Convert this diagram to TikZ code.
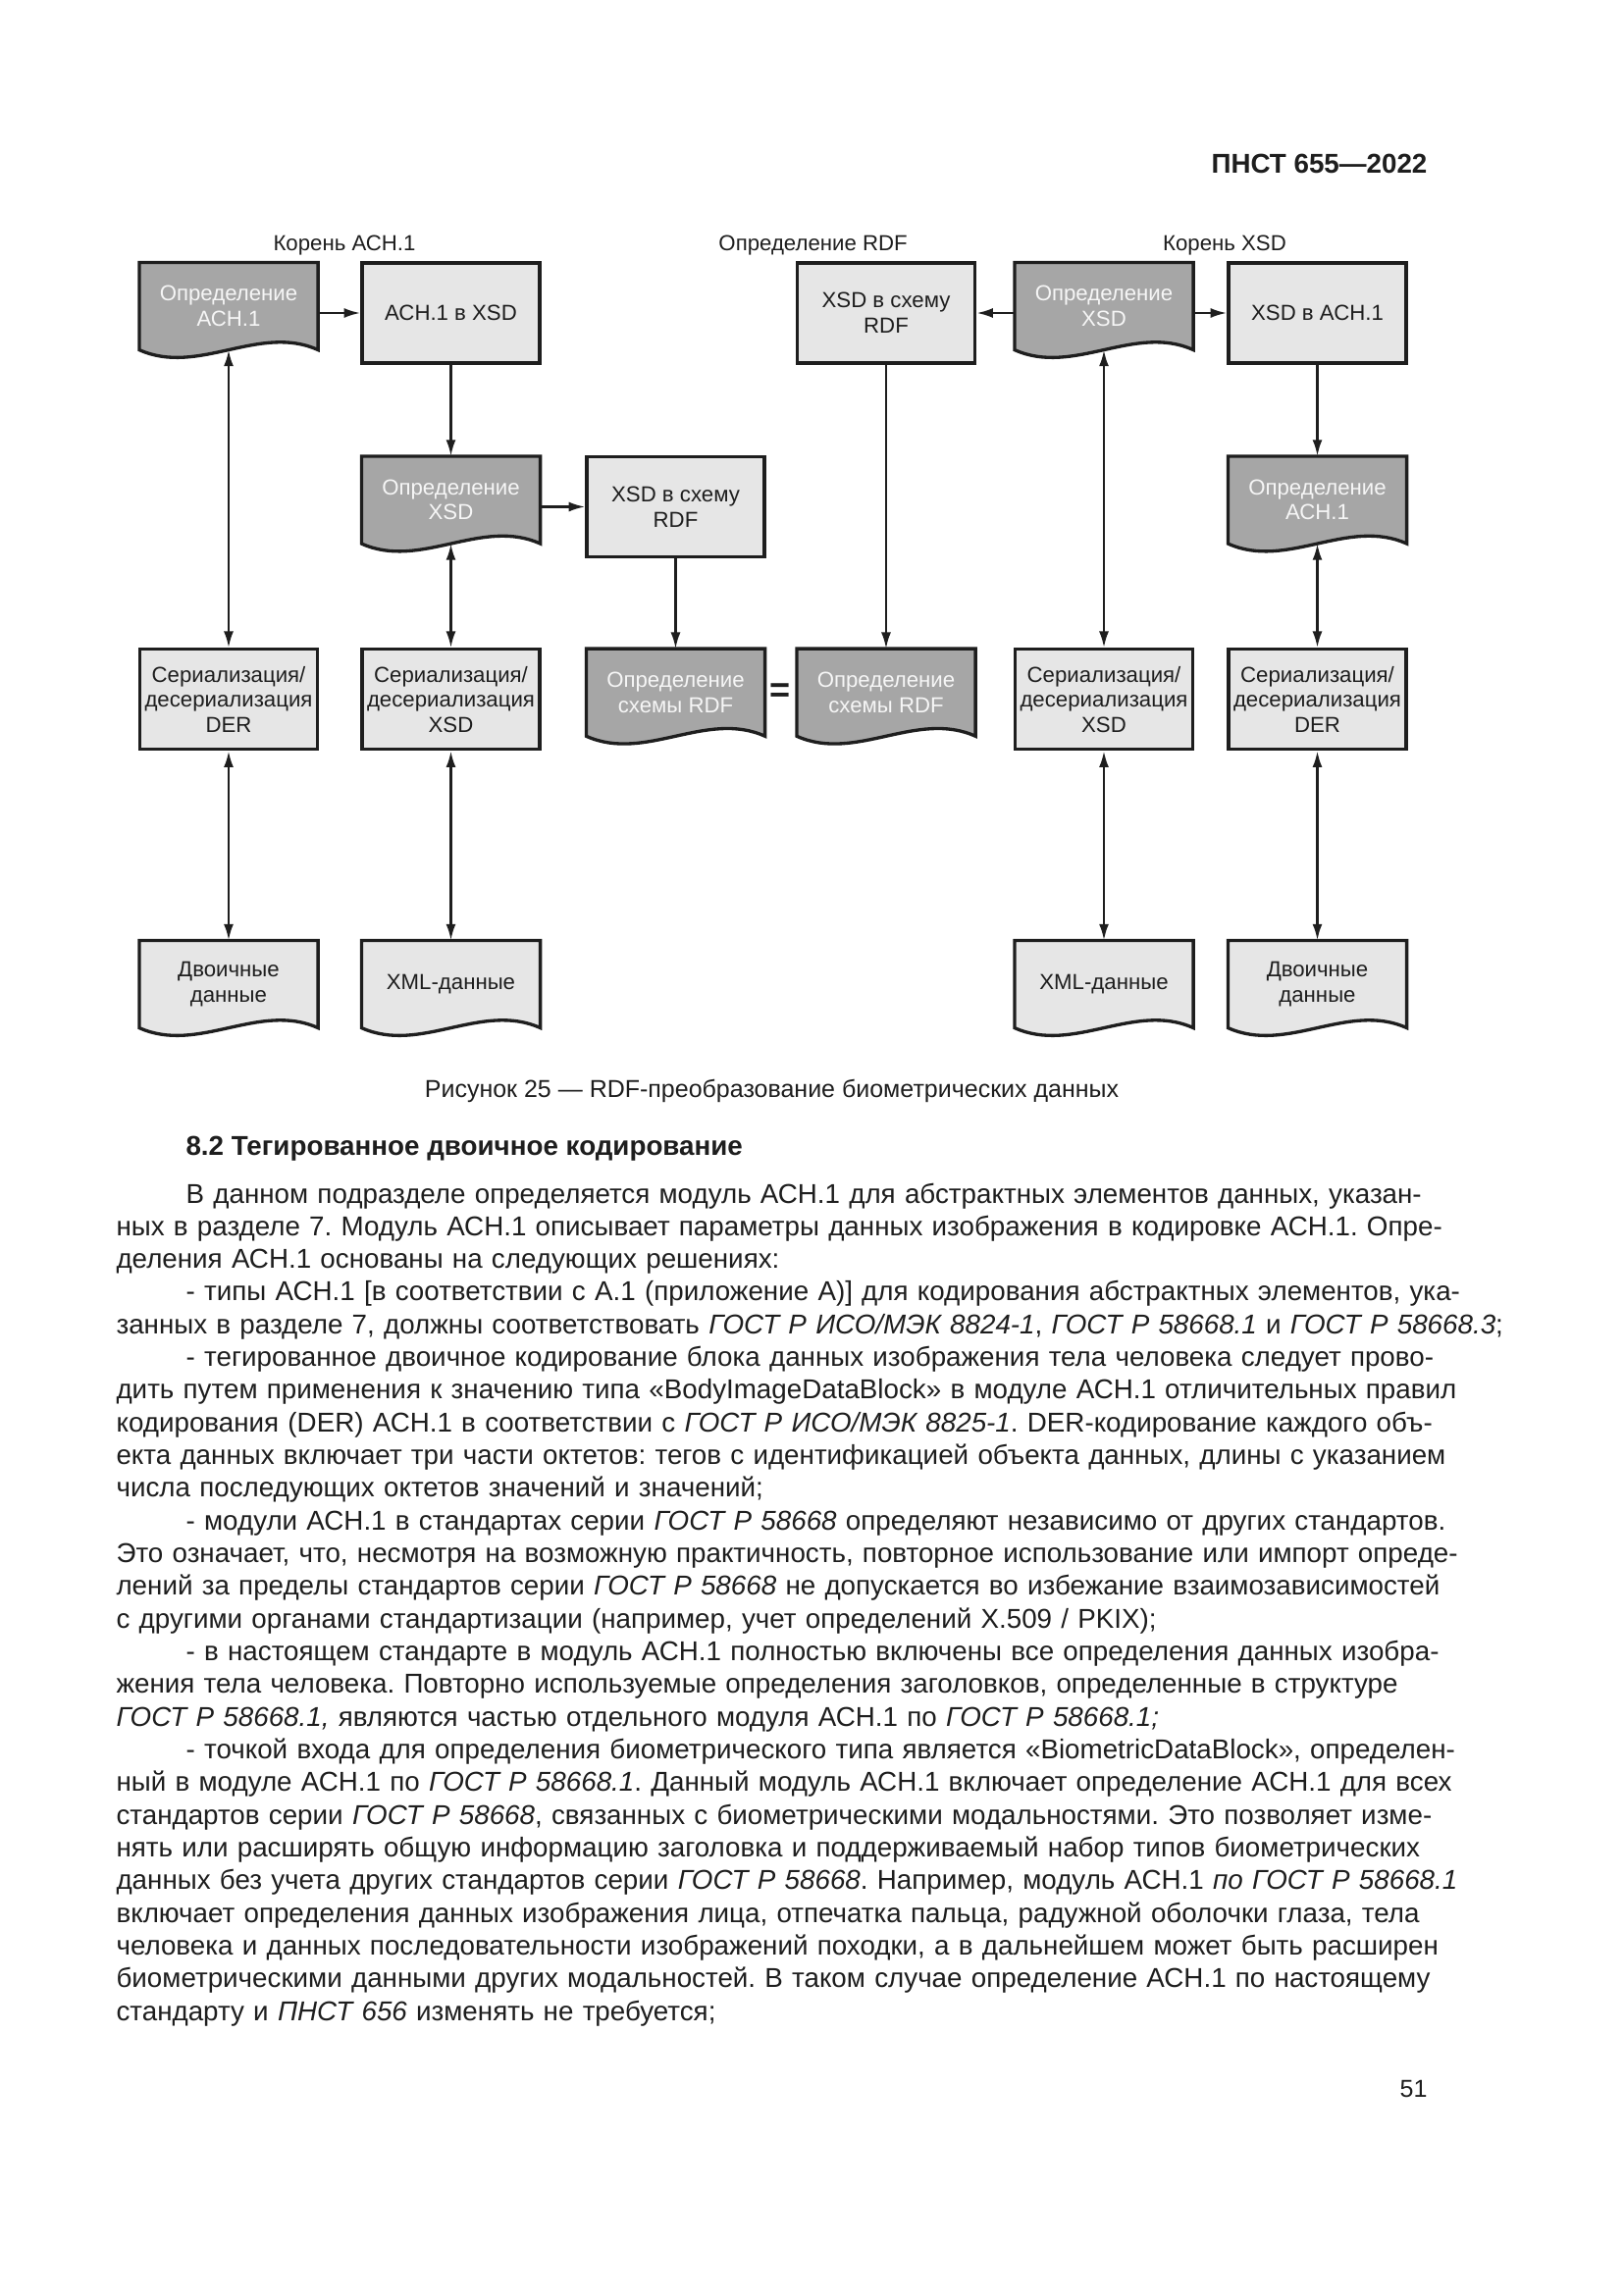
\documentclass[tikz,border=0pt]{standalone}
\usepackage{fontspec}
\setmainfont{Liberation Sans}
\usetikzlibrary{arrows.meta,backgrounds}
\definecolor{ink}{HTML}{1E1E1E}
\definecolor{lightfill}{HTML}{E6E6E6}
\definecolor{darkfill}{HTML}{A6A6A6}
\definecolor{doctext}{HTML}{F6F6F6}
\frenchspacing
\newcommand{\boxfont}{\fontsize{8}{9.2}\selectfont}
\newcommand{\bodyfont}{\fontsize{10}{12}\selectfont}
\newlength{\bodyw}\setlength{\bodyw}{481.5pt}
\newlength{\pind}\setlength{\pind}{25.6pt}
\newcommand{\jline}[1]{\makebox[\bodyw][s]{#1}}
\newcommand{\docshape}[2]{%
  \path[docline, fill=#2] (#1.north west) -- (#1.north east) -- (#1.south east)
    .. controls +(-60,-27) and +(60,27) .. (#1.south west) -- cycle;}
\begin{document}
\begin{tikzpicture}[x=0.36013pt, y=-0.36013pt,
  every node/.style={text=ink, inner sep=0pt},
  rectbox/.style={draw=ink, line width=1.2pt, fill=lightfill, minimum width=65.2pt,
    minimum height=36.7pt, align=center, font=\boxfont},
  docdark/.style={minimum width=65.2pt, minimum height=31.7pt, align=center,
    font=\boxfont, text=doctext},
  doclight/.style={minimum width=65.2pt, minimum height=31.7pt, align=center,
    font=\boxfont},
  docline/.style={draw=ink, line width=1.2pt, line join=miter},
  arr/.style={draw=ink, line width=0.9pt, -{Latex[length=6pt,width=3.6pt]}},
  barr/.style={draw=ink, line width=0.9pt,
    {Latex[length=6pt,width=3.6pt]}-{Latex[length=6pt,width=3.6pt]}},
  lbl/.style={anchor=base, font=\boxfont}]
\useasboundingbox (0,0) rectangle (1654,2339);

% header
\node[anchor=base east, font=\bfseries\fontsize{10}{12}\selectfont] (hdr) at (1455,176.7) {ПНСТ 655—2022};

% group labels
\node[lbl] (lblA) at (351,255) {Корень АСН.1};
\node[lbl] (lblR) at (828.6,255) {Определение RDF};
\node[lbl] (lblX) at (1248,255) {Корень XSD};

% row 1
\node[docdark] (A1) at (233,312) {Определение\\АСН.1};
\node[rectbox] (B1) at (459.5,319) {АСН.1 в XSD};
\node[rectbox] (D1) at (903,319) {XSD в схему\\RDF};
\node[docdark] (E1) at (1125,312) {Определение\\XSD};
\node[rectbox] (F1) at (1342.5,319) {XSD в АСН.1};

% row 2
\node[docdark] (B2) at (459.5,509.5) {Определение\\XSD};
\node[rectbox] (C2) at (688.5,516.5) {XSD в схему\\RDF};
\node[docdark] (F2) at (1342.5,509.5) {Определение\\АСН.1};

% row 3
\node[rectbox] (A3) at (233,712.7) {Сериализация/\\десериализация\\DER};
\node[rectbox] (B3) at (459.5,712.7) {Сериализация/\\десериализация\\XSD};
\node[docdark] (C3) at (688.5,705.7) {Определение\\схемы RDF};
\node[docdark] (D3) at (903,705.7) {Определение\\схемы RDF};
\node[rectbox] (E3) at (1125,712.7) {Сериализация/\\десериализация\\XSD};
\node[rectbox] (F3) at (1342.5,712.7) {Сериализация/\\десериализация\\DER};
\node[font=\bfseries\fontsize{13}{13}\selectfont] (eq) at (795.5,705.7) {=};

% row 4
\node[doclight] (A4) at (233,1003) {Двоичные\\данные};
\node[doclight] (B4) at (459.5,1003) {XML-данные};
\node[doclight] (E4) at (1125,1003) {XML-данные};
\node[doclight] (F4) at (1342.5,1003) {Двоичные\\данные};

\begin{pgfonlayer}{background}
\fill[white] (0,0) rectangle (1654,2339);
\docshape{A1}{darkfill}
\docshape{E1}{darkfill}
\docshape{B2}{darkfill}
\docshape{F2}{darkfill}
\docshape{C3}{darkfill}
\docshape{D3}{darkfill}
\docshape{A4}{lightfill}
\docshape{B4}{lightfill}
\docshape{E4}{lightfill}
\docshape{F4}{lightfill}
\end{pgfonlayer}

% connectors
\draw[arr] (B1.west -| A1.east) -- (B1.west);
\draw[arr] (B1) -- (B2);
\draw[arr] (C2.west -| B2.east) -- (C2.west);
\draw[arr] (C2) -- (C3);
\draw[arr] (D1) -- (D3);
\draw[arr] (D1.east -| E1.west) -- (D1.east);
\draw[arr] (F1.west -| E1.east) -- (F1.west);
\draw[arr] (F1) -- (F2);
\draw[barr] (A1) -- (A3);
\draw[barr] (B2) -- (B3);
\draw[barr] (E1) -- (E3);
\draw[barr] (F2) -- (F3);
\draw[barr] (A3) -- (A4);
\draw[barr] (B3) -- (B4);
\draw[barr] (E3) -- (E4);
\draw[barr] (F3) -- (F4);

% caption and heading
\node[anchor=base, font=\fontsize{9}{11}\selectfont] (cap) at (786.5,1118) {Рисунок 25 — RDF-преобразование биометрических данных};
\node[anchor=base west, font=\bfseries\fontsize{10}{12}\selectfont] (sec) at (189,1177) {8.2 Тегированное двоичное кодирование};

% body text
\node[anchor=base west, text width=\bodyw, align=left, font=\bodyfont] (body) at (118,1226) {%
\jline{\hspace*{\pind}В данном подразделе определяется модуль АСН.1 для абстрактных элементов данных, указан-}\\
\jline{ных в разделе 7. Модуль АСН.1 описывает параметры данных изображения в кодировке АСН.1. Опре-}\\
деления АСН.1 основаны на следующих решениях:\\
\jline{\hspace*{\pind}- типы АСН.1 [в соответствии с А.1 (приложение А)] для кодирования абстрактных элементов, ука-}\\
\jline{занных в разделе 7, должны соответствовать \textit{ГОСТ Р ИСО/МЭК 8824-1}, \textit{ГОСТ Р 58668.1} и \textit{ГОСТ Р 58668.3};}\\
\jline{\hspace*{\pind}- тегированное двоичное кодирование блока данных изображения тела человека следует прово-}\\
\jline{дить путем применения к значению типа «BodyImageDataBlock» в модуле АСН.1 отличительных правил}\\
\jline{кодирования (DER) АСН.1 в соответствии с \textit{ГОСТ Р ИСО/МЭК 8825-1}. DER-кодирование каждого объ-}\\
\jline{екта данных включает три части октетов: тегов с идентификацией объекта данных, длины с указанием}\\
числа последующих октетов значений и значений;\\
\jline{\hspace*{\pind}- модули АСН.1 в стандартах серии \textit{ГОСТ Р 58668} определяют независимо от других стандартов.}\\
\jline{Это означает, что, несмотря на возможную практичность, повторное использование или импорт опреде-}\\
\jline{лений за пределы стандартов серии \textit{ГОСТ Р 58668} не допускается во избежание взаимозависимостей}\\
с другими органами стандартизации (например, учет определений X.509 / PKIX);\\
\jline{\hspace*{\pind}- в настоящем стандарте в модуль АСН.1 полностью включены все определения данных изобра-}\\
\jline{жения тела человека. Повторно используемые определения заголовков, определенные в структуре}\\
\textit{ГОСТ Р 58668.1,} являются частью отдельного модуля АСН.1 по \textit{ГОСТ Р 58668.1;}\\
\jline{\hspace*{\pind}- точкой входа для определения биометрического типа является «BiometricDataBlock», определен-}\\
\jline{ный в модуле АСН.1 по \textit{ГОСТ Р 58668.1}. Данный модуль АСН.1 включает определение АСН.1 для всех}\\
\jline{стандартов серии \textit{ГОСТ Р 58668}, связанных с биометрическими модальностями. Это позволяет изме-}\\
\jline{нять или расширять общую информацию заголовка и поддерживаемый набор типов биометрических}\\
\jline{данных без учета других стандартов серии \textit{ГОСТ Р 58668}. Например, модуль АСН.1 \textit{по ГОСТ Р 58668.1}}\\
\jline{включает определения данных изображения лица, отпечатка пальца, радужной оболочки глаза, тела}\\
\jline{человека и данных последовательности изображений походки, а в дальнейшем может быть расширен}\\
\jline{биометрическими данными других модальностей. В таком случае определение АСН.1 по настоящему}\\
стандарту и \textit{ПНСТ 656} изменять не требуется;};

% page number
\node[anchor=base east, font=\fontsize{9}{11}\selectfont] (pg) at (1455,2137) {51};
\end{tikzpicture}
\end{document}
